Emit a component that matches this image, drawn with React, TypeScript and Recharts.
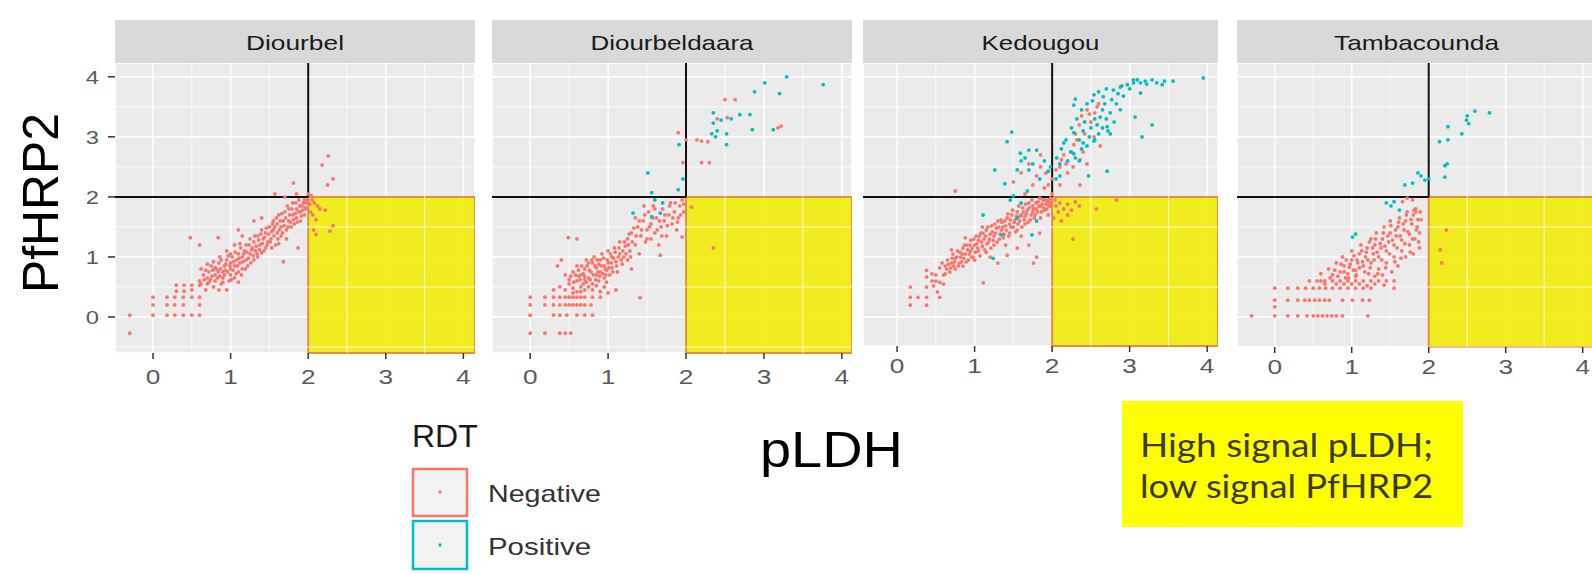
import React from 'react';
import { ScatterChart, Scatter, XAxis, YAxis, CartesianGrid, ReferenceLine, ReferenceArea } from 'recharts';

type Pt = [number, number];

const xTicks = [0, 1, 2, 3, 4];
const yTicks = [0, 1, 2, 3, 4];
const minorTicks = [-0.5, 0.5, 1.5, 2.5, 3.5];
const cutoff = 2;

// Diourbel
const diourbelNeg: Pt[] = [
  [-0.3, 0.03], [-0.3, -0.27],
  [0, 0.33], [0.18, 0.33], [0.28, 0.33], [0.39, 0.33], [0.5, 0.33], [0.6, 0.33],
  [0, 0.2], [0.18, 0.2], [0.28, 0.2], [0.39, 0.2], [0.6, 0.2],
  [0, 0.03], [0.18, 0.03], [0.28, 0.03], [0.39, 0.03], [0.5, 0.03], [0.6, 0.03],
  [0.3, 0.53], [0.4, 0.53], [0.5, 0.53], [0.6, 0.53], [0.3, 0.43], [0.4, 0.43], [0.5, 0.45],
  [0.6, 0.6], [0.65, 0.7], [0.62, 0.8], [0.7, 0.55], [0.7, 0.65], [0.72, 0.75], [0.75, 0.85], [0.78, 0.5],
  [0.8, 0.6], [0.8, 0.7], [0.82, 0.8], [0.85, 0.9], [0.85, 0.45], [0.88, 0.55], [0.9, 0.65], [0.9, 0.75],
  [0.92, 0.85], [0.95, 0.95], [0.95, 0.45], [0.98, 0.6], [1.0, 0.7], [1.0, 0.8], [1.0, 0.9], [1.02, 1.0],
  [0.68, 0.45], [0.74, 0.62], [0.86, 0.68], [0.93, 0.78], [0.78, 0.92], [0.7, 0.88],
  [1.05, 0.65], [1.05, 0.85], [1.08, 0.95], [1.1, 0.75], [1.1, 1.05], [1.12, 0.9], [1.15, 1.0], [1.15, 0.8],
  [1.18, 1.1], [1.2, 0.95], [1.2, 1.2], [1.22, 0.85], [1.25, 1.05], [1.25, 1.3], [1.28, 1.15], [1.3, 0.95],
  [1.3, 1.25], [1.32, 1.1], [1.35, 1.35], [1.35, 1.0], [1.38, 1.2], [1.4, 1.45], [1.4, 1.07], [1.42, 1.3],
  [1.45, 1.15], [1.45, 1.4], [1.48, 1.25], [1.5, 1.5], [1.1, 0.58], [0.95, 1.1], [1.05, 1.2], [1.15, 1.35],
  [1.52, 1.3], [1.55, 1.45], [1.55, 1.6], [1.58, 1.2], [1.6, 1.4], [1.6, 1.55], [1.62, 1.7], [1.65, 1.35],
  [1.65, 1.5], [1.68, 1.6], [1.68, 0.92], [1.7, 1.75], [1.72, 1.45], [1.75, 1.6], [1.75, 1.8], [1.78, 1.5],
  [1.8, 1.7], [1.8, 1.9], [1.82, 1.55], [1.85, 1.65], [1.85, 1.8], [1.87, 1.15], [1.88, 1.95], [1.9, 1.75],
  [1.9, 1.6], [1.92, 1.85], [1.95, 1.7], [1.95, 1.95], [1.97, 1.8], [1.98, 1.9], [1.57, 2.05], [1.81, 2.23],
  [1.7, 2.0], [1.85, 2.05],
  [0.62, 0.55], [0.66, 0.62], [0.68, 0.78], [0.72, 0.58], [0.76, 0.68], [0.77, 0.78], [0.8, 0.82], [0.83, 0.65],
  [0.84, 0.75], [0.87, 0.8], [0.88, 0.95], [0.9, 0.58], [0.92, 0.7], [0.94, 0.88], [0.96, 0.75], [0.97, 1.02],
  [0.99, 0.85], [1.01, 0.62], [1.03, 0.78], [1.04, 0.92], [1.06, 1.08], [1.07, 0.72], [1.09, 0.85], [1.11, 0.98],
  [1.13, 1.15], [1.14, 0.7], [1.16, 0.92], [1.17, 1.05], [1.19, 0.8], [1.21, 1.08], [1.23, 0.98], [1.24, 1.2],
  [1.26, 0.9], [1.27, 1.12], [1.29, 1.02], [1.31, 1.35], [1.33, 1.18], [1.34, 1.05], [1.36, 1.28], [1.37, 1.12],
  [1.39, 1.38], [1.41, 1.22], [1.43, 1.1], [1.44, 1.33], [1.46, 1.48], [1.47, 1.2], [1.49, 1.38], [1.51, 1.25],
  [1.53, 1.42], [1.54, 1.55], [1.56, 1.35], [1.57, 1.5], [1.59, 1.65], [1.61, 1.3], [1.63, 1.45], [1.64, 1.6],
  [1.66, 1.72], [1.67, 1.4], [1.69, 1.52], [1.71, 1.65], [1.73, 1.85], [1.74, 1.5], [1.76, 1.7], [1.77, 1.58],
  [1.79, 1.8], [1.81, 1.62], [1.83, 1.72], [1.84, 1.9], [1.86, 1.58], [1.87, 1.75], [1.89, 1.85], [1.91, 1.68],
  [1.93, 1.78], [1.94, 1.9], [1.96, 1.82], [1.99, 1.95], [1.53, 1.15], [1.62, 1.22], [1.72, 1.3], [1.12, 1.22],
  [1.0, 1.05], [0.86, 1.0],
  [0.48, 1.32], [0.6, 1.2], [0.84, 1.32], [1.1, 1.45], [1.3, 1.6], [1.4, 1.65],
  [2.18, 2.53], [2.26, 2.68], [2.32, 2.3], [2.25, 2.2], [2.22, 1.78], [2.15, 1.8], [2.1, 1.62], [2.07, 1.45],
  [2.1, 1.37], [2.32, 1.52], [2.28, 1.43], [2.02, 1.88], [2.05, 1.95], [2.03, 1.75], [2.08, 1.9], [2.0, 2.05],
  [2.04, 2.02], [2.12, 1.85], [2.06, 1.7],
];
const diourbelPos: Pt[] = [];

// Diourbeldaara
const daaraNeg: Pt[] = [
  [0, 0.33], [0.19, 0.33], [0.3, 0.33], [0.38, 0.33], [0.45, 0.33], [0.5, 0.33], [0.55, 0.33], [0.6, 0.33],
  [0.65, 0.33], [0.7, 0.33], [0.8, 0.33], [0.9, 0.33],
  [0, 0.2], [0.19, 0.2], [0.3, 0.2], [0.38, 0.2], [0.45, 0.2], [0.5, 0.2], [0.55, 0.2], [0.6, 0.2],
  [0.65, 0.2], [0.7, 0.2], [0.78, 0.2],
  [0, 0.03], [0.3, 0.03], [0.38, 0.03], [0.47, 0.03], [0.6, 0.03], [0.7, 0.03], [0.8, 0.03],
  [0, -0.27], [0.19, -0.27], [0.38, -0.27], [0.45, -0.27], [0.52, -0.27],
  [0.3, 0.45], [0.38, 0.5], [0.45, 0.45], [0.5, 0.55], [0.55, 0.48], [0.6, 0.42], [0.7, 0.45], [0.8, 0.45],
  [0.9, 0.42], [1.0, 0.4], [1.1, 0.45], [1.41, 0.32],
  [0.45, 0.7], [0.5, 0.62], [0.55, 0.75], [0.6, 0.6], [0.6, 0.85], [0.65, 0.7], [0.68, 0.55], [0.7, 0.8],
  [0.72, 0.95], [0.75, 0.65], [0.78, 0.75], [0.8, 0.9], [0.8, 0.55], [0.82, 1.0], [0.85, 0.7], [0.85, 0.82],
  [0.88, 0.6], [0.9, 0.95], [0.9, 0.75], [0.92, 1.05], [0.95, 0.85], [0.95, 0.65], [0.98, 0.78], [1.0, 0.9],
  [1.0, 1.1], [1.02, 0.7], [1.05, 1.0], [1.05, 0.82], [1.08, 1.15], [1.1, 0.92], [1.12, 0.75], [1.15, 1.05],
  [1.15, 1.25], [1.18, 0.88], [1.2, 1.0], [1.22, 1.18], [1.25, 1.3], [1.25, 0.95], [1.28, 1.1], [1.3, 1.4],
  [1.3, 0.8], [0.7, 0.62], [0.62, 0.68], [0.88, 0.88], [0.75, 0.9], [0.98, 0.58],
  [0.52, 0.68], [0.56, 0.58], [0.58, 0.7], [0.62, 0.78], [0.64, 0.62], [0.66, 0.85], [0.68, 0.72], [0.7, 0.68],
  [0.72, 0.58], [0.73, 0.85], [0.76, 0.78], [0.77, 0.62], [0.79, 0.95], [0.81, 0.7], [0.83, 0.85], [0.84, 0.62],
  [0.86, 0.95], [0.87, 0.75], [0.89, 0.68], [0.91, 0.85], [0.93, 0.72], [0.94, 0.98], [0.96, 0.8], [0.97, 0.7],
  [0.99, 0.95], [1.01, 0.82], [1.03, 1.05], [1.04, 0.9], [1.06, 0.75], [1.07, 0.98], [1.09, 1.08], [1.11, 0.85],
  [1.13, 1.0], [1.14, 1.15], [1.17, 0.95], [1.19, 1.1], [1.21, 1.25], [1.23, 1.05], [1.26, 1.2], [1.27, 1.38],
  [1.29, 1.0], [1.31, 1.25], [1.33, 1.48], [1.36, 1.35], [1.4, 1.6], [1.43, 1.45], [1.47, 1.7], [1.5, 1.3],
  [1.53, 1.5], [1.57, 1.65], [1.6, 1.8], [1.63, 1.45], [1.66, 1.6], [1.69, 1.35], [1.73, 1.7], [1.76, 1.52],
  [1.79, 1.85], [1.83, 1.65], [1.86, 1.9], [1.89, 1.58], [1.93, 1.7], [1.97, 1.88], [0.65, 0.5], [0.75, 0.5],
  [0.85, 0.52], [0.95, 0.5], [0.55, 0.4], [0.65, 0.42],
  [0.49, 1.32], [0.6, 1.3], [0.35, 0.85], [0.4, 0.95],
  [1.35, 1.2], [1.38, 1.5], [1.4, 1.05], [1.42, 1.35], [1.45, 1.6], [1.48, 1.25], [1.5, 1.45], [1.52, 1.75],
  [1.55, 1.3], [1.55, 1.55], [1.58, 1.85], [1.6, 1.4], [1.62, 1.65], [1.65, 1.2], [1.67, 1.03], [1.68, 1.5],
  [1.7, 1.8], [1.72, 1.6], [1.75, 1.35], [1.78, 1.7], [1.8, 1.9], [1.82, 1.55], [1.85, 1.75], [1.88, 1.45],
  [1.9, 1.65], [1.92, 1.85], [1.95, 1.33], [1.95, 1.95], [1.97, 1.75], [1.46, 1.85], [1.35, 1.65],
  [1.9, 3.07], [1.96, 2.57], [2.0, 2.95], [2.14, 2.95], [2.2, 2.93], [2.28, 2.92], [2.2, 2.57], [2.3, 2.57],
  [2.53, 3.32], [2.5, 3.62], [2.63, 3.62], [3.18, 3.15], [3.22, 3.18], [2.4, 3.3],
  [2.35, 1.15], [2.07, 1.83],
];
const daaraPos: Pt[] = [
  [1.51, 2.4], [1.56, 2.07], [1.32, 1.73], [1.56, 1.67], [1.67, 1.73], [1.9, 2.12], [1.91, 2.87], [1.96, 2.3],
  [2.35, 3.4], [2.35, 3.23], [2.33, 3.05], [2.38, 3.0], [2.4, 3.1], [2.52, 3.05], [2.52, 2.87], [2.69, 3.37],
  [2.82, 3.37], [2.85, 3.12], [2.88, 3.75], [3.01, 3.9], [3.29, 4.0], [3.2, 3.72], [3.76, 3.87], [2.58, 3.3],
  [2.45, 3.28], [3.12, 3.12], [1.7, 1.9], [1.6, 1.95],
];

// Kedougou
const kedougouNeg: Pt[] = [
  [0.17, 0.5], [0.17, 0.33], [0.17, 0.2], [0.27, 0.33], [0.38, 0.33], [0.38, 0.2], [0.38, 0.5], [0.38, 0.67],
  [0.38, 0.78], [0.47, 0.52], [0.52, 0.42], [0.55, 0.33], [0.45, 0.6], [0.5, 0.7], [0.55, 0.58], [0.6, 0.55],
  [0.6, 0.7], [0.62, 0.85], [0.65, 0.95], [0.68, 0.75], [0.7, 0.9], [0.72, 1.05], [0.75, 0.8], [0.75, 0.98],
  [0.78, 1.1], [0.8, 0.9], [0.82, 1.0], [0.85, 1.15], [0.85, 0.85], [0.88, 1.05], [0.9, 1.2], [0.92, 0.95],
  [0.95, 1.1], [0.95, 1.28], [0.98, 1.0], [1.0, 1.2], [1.02, 1.35], [1.05, 1.1], [1.05, 1.28], [1.08, 1.4],
  [1.1, 1.18], [1.12, 1.3], [1.15, 1.45], [1.15, 1.08], [1.18, 1.25], [1.2, 1.38], [1.22, 1.52], [1.25, 1.2],
  [1.25, 1.35], [1.28, 1.48], [1.3, 1.6], [1.32, 1.3], [1.35, 1.45], [1.35, 1.58], [1.38, 1.38], [1.4, 1.52],
  [1.42, 1.65], [1.45, 1.4], [1.45, 1.55], [1.48, 1.7], [1.5, 1.5], [1.52, 1.62], [1.55, 1.75], [1.55, 1.45],
  [1.58, 1.6], [1.6, 1.7], [1.62, 1.82], [1.65, 1.55], [1.65, 1.68], [1.68, 1.78], [1.7, 1.9], [1.72, 1.62],
  [1.75, 1.75], [1.75, 1.85], [1.78, 1.7], [1.8, 1.8], [1.82, 1.92], [1.85, 1.65], [1.85, 1.85], [1.88, 1.95],
  [1.9, 1.78], [1.92, 1.88], [1.95, 1.95], [1.95, 1.7], [1.98, 1.85], [1.98, 1.98], [0.7, 1.12], [0.88, 1.32],
  [1.0, 0.95], [1.2, 1.0], [1.4, 1.2], [1.6, 1.35], [1.1, 1.5],
  [0.62, 0.72], [0.64, 0.8], [0.66, 0.88], [0.69, 0.82], [0.71, 0.98], [0.73, 0.85], [0.74, 0.92], [0.77, 1.0],
  [0.79, 0.85], [0.81, 1.08], [0.83, 0.92], [0.84, 1.05], [0.86, 0.98], [0.87, 1.2], [0.89, 0.92], [0.91, 1.12],
  [0.93, 1.05], [0.94, 1.2], [0.96, 1.0], [0.97, 1.15], [0.99, 1.3], [1.01, 1.08], [1.03, 1.22], [1.04, 1.15],
  [1.06, 1.35], [1.07, 1.02], [1.09, 1.25], [1.11, 1.4], [1.13, 1.12], [1.14, 1.35], [1.16, 1.22], [1.17, 1.5],
  [1.19, 1.3], [1.21, 1.15], [1.23, 1.42], [1.24, 1.28], [1.26, 1.55], [1.27, 1.4], [1.29, 1.25], [1.31, 1.5],
  [1.33, 1.38], [1.34, 1.62], [1.36, 1.5], [1.37, 1.32], [1.39, 1.6], [1.41, 1.45], [1.43, 1.72], [1.44, 1.35],
  [1.46, 1.62], [1.47, 1.5], [1.49, 1.78], [1.51, 1.58], [1.53, 1.42], [1.54, 1.68], [1.56, 1.55], [1.57, 1.85],
  [1.59, 1.68], [1.61, 1.5], [1.63, 1.75], [1.64, 1.62], [1.66, 1.88], [1.67, 1.72], [1.69, 1.58], [1.71, 1.82],
  [1.73, 1.7], [1.74, 1.95], [1.76, 1.8], [1.77, 1.65], [1.79, 1.9], [1.81, 1.75], [1.83, 1.85], [1.84, 1.98],
  [1.86, 1.75], [1.87, 1.88], [1.89, 1.82], [1.91, 1.95], [1.93, 1.8], [1.94, 1.9], [1.96, 1.85], [1.97, 1.92],
  [1.99, 1.9], [0.55, 0.82], [0.5, 0.6], [0.45, 0.72], [0.58, 0.9],
  [1.11, 0.57], [1.42, 1.03], [1.8, 1.0], [1.76, 0.9], [1.84, 1.4], [1.7, 1.2], [0.75, 2.1], [1.55, 1.15], [1.3, 0.9],
  [1.85, 2.7], [2.36, 2.62], [2.28, 2.87], [2.54, 3.0], [2.45, 3.45], [2.2, 2.4], [2.36, 2.2], [2.0, 2.3],
  [1.85, 2.5], [1.75, 2.2], [1.7, 2.55], [1.6, 2.4], [1.9, 2.15], [2.1, 2.5], [2.15, 2.7], [2.4, 2.75],
  [2.5, 3.25], [2.55, 3.4], [2.6, 3.55], [2.35, 3.2], [2.3, 3.05], [2.62, 2.85], [1.5, 2.25], [1.65, 2.05],
  [2.0, 2.05], [2.1, 2.2], [1.95, 2.2], [2.05, 2.45], [2.12, 2.62], [2.18, 2.55], [2.25, 2.75], [2.32, 2.95],
  [2.42, 3.05], [2.48, 3.38], [2.58, 3.5], [2.38, 3.35], [2.27, 2.5], [2.45, 2.55], [1.92, 2.4], [1.8, 2.35],
  [2.05, 1.85], [2.1, 1.9], [2.15, 1.8], [2.2, 1.88], [2.25, 1.78], [2.3, 1.92], [2.35, 1.85], [2.08, 1.75],
  [2.27, 1.3], [2.57, 1.8], [2.83, 1.95], [2.02, 1.65], [2.12, 1.6], [2.04, 1.95], [2.2, 1.7],
];
const kedougouPos: Pt[] = [
  [2.79, 3.78], [2.88, 3.83], [2.97, 3.87], [3.05, 3.9], [3.14, 3.9], [3.29, 3.95], [3.42, 3.87], [3.56, 3.93],
  [3.95, 3.98], [3.14, 3.73], [2.92, 3.68], [2.66, 3.67], [2.54, 3.7], [3.0, 3.8], [3.22, 3.88], [3.35, 3.9],
  [2.85, 3.72], [3.1, 3.95], [2.9, 3.85], [3.05, 3.95], [3.2, 3.93], [3.45, 3.93],
  [2.28, 3.07], [2.62, 3.33], [2.71, 3.17], [2.54, 2.93], [2.24, 2.75], [2.06, 2.65], [2.15, 2.9], [2.35, 2.95],
  [2.4, 3.1], [2.45, 2.85], [2.5, 3.15], [2.55, 3.3], [2.6, 3.05], [2.65, 3.45], [2.7, 3.3], [2.75, 3.4],
  [2.8, 3.25], [2.58, 3.2], [2.48, 3.0], [2.38, 2.8], [2.3, 2.65], [2.2, 2.6], [2.12, 2.8], [2.42, 3.25],
  [2.68, 3.55], [2.72, 3.1], [2.1, 2.55], [2.05, 2.3], [2.18, 2.95], [2.25, 3.15], [2.32, 3.3], [2.38, 3.45],
  [2.45, 3.55], [2.52, 3.6], [2.6, 3.75], [2.7, 3.8], [2.77, 3.62], [2.83, 3.55], [2.88, 3.45], [2.65, 3.15],
  [2.55, 2.95], [2.4, 2.9], [2.28, 2.72], [2.35, 2.6], [2.75, 3.05],
  [3.07, 3.33], [3.29, 3.2], [3.16, 3.0], [2.71, 2.43], [2.47, 2.35], [2.28, 3.53], [2.3, 3.63],
  [1.48, 3.08], [1.42, 2.92], [1.59, 2.73], [1.7, 2.78], [1.8, 2.78], [1.65, 2.65], [1.26, 2.45], [1.39, 2.22],
  [1.55, 2.45], [1.75, 2.55], [1.68, 2.1], [1.84, 2.3], [1.95, 2.43], [1.9, 2.6], [1.98, 2.5], [2.1, 2.35],
  [1.7, 2.45], [1.6, 2.6],
  [1.46, 1.95], [1.5, 2.02], [1.35, 1.37], [1.24, 0.98], [1.74, 1.37], [1.6, 1.9], [1.55, 1.65], [1.8, 1.6], [1.11, 1.7],
];

// Tambacounda
const tambaNeg: Pt[] = [
  [-0.3, 0.02], [0, 0.02], [0.17, 0.02], [0.3, 0.02], [0.42, 0.02], [0.5, 0.02], [0.56, 0.02], [0.62, 0.02],
  [0.68, 0.02], [0.74, 0.02], [0.8, 0.02], [0.88, 0.02], [1.21, 0.02],
  [0, 0.17],
  [0, 0.28], [0.17, 0.28], [0.3, 0.28], [0.39, 0.28], [0.45, 0.28], [0.52, 0.28], [0.58, 0.28], [0.65, 0.28],
  [0.71, 0.28], [0.88, 0.28], [1.01, 0.28], [1.14, 0.28], [1.23, 0.28],
  [0, 0.48], [0.17, 0.48], [0.3, 0.48], [0.4, 0.48], [0.5, 0.48], [0.58, 0.48], [0.66, 0.48], [0.75, 0.48],
  [0.85, 0.48], [0.95, 0.48], [1.05, 0.48], [1.15, 0.48], [1.25, 0.48], [1.42, 0.53], [1.55, 0.48],
  [0.45, 0.6], [0.55, 0.6], [0.65, 0.6], [0.75, 0.6], [0.85, 0.6], [0.95, 0.6], [1.05, 0.6], [1.15, 0.6],
  [1.25, 0.6], [1.35, 0.6], [1.45, 0.6], [1.55, 0.6],
  [0.6, 0.72], [0.7, 0.8], [0.75, 0.7], [0.8, 0.9], [0.85, 0.75], [0.88, 1.0], [0.9, 0.85], [0.95, 0.72],
  [0.97, 0.83], [1.0, 0.95], [1.0, 1.1], [1.05, 0.78], [1.08, 0.9], [1.1, 1.05], [1.12, 1.2], [1.15, 0.85],
  [1.18, 1.0], [1.2, 1.15], [1.22, 0.72], [1.25, 1.3], [1.25, 0.9], [1.28, 1.05], [1.3, 1.2], [1.32, 1.4],
  [1.35, 0.8], [1.35, 1.0], [1.38, 1.15], [1.4, 1.3], [1.42, 1.5], [1.45, 0.9], [1.45, 1.1], [1.48, 1.25],
  [1.5, 1.4], [1.5, 1.6], [1.52, 0.75], [1.55, 1.0], [1.55, 1.2], [1.58, 1.35], [1.6, 1.5], [1.6, 0.85],
  [1.62, 1.65], [1.65, 1.1], [1.65, 1.28], [1.68, 1.45], [1.7, 1.0], [1.7, 1.6], [1.72, 1.75], [1.75, 1.2],
  [1.75, 1.38], [1.78, 1.55], [1.8, 1.05], [1.8, 1.7], [1.82, 1.3], [1.83, 1.75], [1.85, 1.5], [1.88, 1.4],
  [1.88, 1.15], [1.9, 1.62], [0.92, 0.65], [1.05, 0.68], [1.4, 0.7], [1.3, 0.68],
  [0.72, 0.65], [0.78, 0.78], [0.82, 0.68], [0.86, 0.88], [0.9, 0.75], [0.93, 0.95], [0.96, 0.65], [0.98, 0.88],
  [1.02, 0.78], [1.03, 1.02], [1.06, 0.7], [1.07, 0.95], [1.1, 0.82], [1.13, 1.1], [1.14, 0.92], [1.17, 0.75],
  [1.19, 1.08], [1.21, 0.95], [1.23, 1.25], [1.24, 0.82], [1.27, 1.15], [1.29, 0.95], [1.31, 1.3], [1.33, 1.08],
  [1.34, 0.72], [1.37, 1.22], [1.39, 0.95], [1.41, 1.4], [1.43, 1.18], [1.44, 0.82], [1.47, 1.35], [1.49, 1.05],
  [1.51, 1.52], [1.53, 1.28], [1.56, 0.92], [1.57, 1.45], [1.59, 1.15], [1.61, 1.58], [1.63, 1.35], [1.64, 0.98],
  [1.67, 1.55], [1.69, 1.22], [1.71, 1.7], [1.73, 1.42], [1.76, 1.08], [1.77, 1.62], [1.79, 1.3], [1.81, 1.78],
  [1.84, 1.45], [1.86, 1.62], [1.87, 1.25], [1.89, 1.75], [0.6, 0.6], [0.65, 0.55], [1.1, 0.55], [1.2, 0.52],
  [1.3, 0.55], [0.8, 0.55], [0.9, 0.55], [1.0, 0.55],
  [1.66, 1.92], [1.79, 1.95], [1.72, 1.98], [1.83, 1.8],
  [2.23, 1.45], [2.15, 1.12], [2.17, 0.9],
];
const tambaPos: Pt[] = [
  [1.01, 1.33], [1.05, 1.38], [1.45, 1.9], [1.51, 1.85], [1.62, 1.78], [1.69, 2.2], [1.79, 2.23], [1.86, 2.4],
  [1.9, 2.35], [2.0, 2.3], [2.21, 2.33], [2.21, 2.52], [2.24, 2.55], [2.14, 2.92], [2.25, 2.95], [2.25, 3.17],
  [2.43, 3.05], [2.49, 3.28], [2.5, 3.35], [2.52, 3.22], [2.6, 3.43], [2.79, 3.4], [1.55, 1.92], [1.95, 2.28],
];

const NEG = '#F8766D';
const POS = '#00BFC4';
const SANS = '"Liberation Sans", Arial, sans-serif';

const PLOT_TOP = 63;
const X_AXIS_H = 45;

// layout of the four facets (pixels) and their visible ranges
const panels = [
  { name: 'Diourbel', nameW: 98, neg: diourbelNeg, pos: diourbelPos, left: 115, right: 475, bottom: 353, xd: [-0.49, 4.15], yd: [-0.6, 4.23], labelDy: 23 },
  { name: 'Diourbeldaara', nameW: 163, neg: daaraNeg, pos: daaraPos, left: 492, right: 852, bottom: 353, xd: [-0.49, 4.13], yd: [-0.6, 4.23], labelDy: 23 },
  { name: 'Kedougou', nameW: 118, neg: kedougouNeg, pos: kedougouPos, left: 863, right: 1218, bottom: 346, xd: [-0.44, 4.14], yd: [-0.48, 4.23], labelDy: 19 },
  { name: 'Tambacounda', nameW: 165, neg: tambaNeg, pos: tambaPos, left: 1237, right: 1595, bottom: 347, xd: [-0.49, 4.16], yd: [-0.5, 4.23], labelDy: 19 },
];

const toRows = (pts: Pt[]) => pts.map(([x, y]) => ({ x, y }));

const makeDot = (color: string) => (props: any) => (
  <circle cx={props.cx} cy={props.cy} r={1.9} fill={color} />
);
const negDot = makeDot(NEG);
const posDot = makeDot(POS);

const makeXTick = (dy: number) => (props: any) => {
  const { x, y, payload } = props;
  return (
    <g transform={`translate(${x},${y})`}>
      <text transform="scale(1.25,1)" textAnchor="middle" y={dy} fontSize={21} fill="#5a5a5a" fontFamily={SANS}>
        {payload.value}
      </text>
    </g>
  );
};

const YTick = (props: any) => {
  const { x, y, payload } = props;
  return (
    <g transform={`translate(${x},${y})`}>
      <text transform="scale(1.25,1)" textAnchor="end" y={7} fontSize={19} fill="#5a5a5a" fontFamily={SANS}>
        {payload.value}
      </text>
    </g>
  );
};

function Facet({ p, showY }: { p: typeof panels[number]; showY: boolean }) {
  const yW = showY ? 40 : 0;
  const w = p.right - p.left + yW;
  const h = p.bottom - PLOT_TOP + X_AXIS_H;
  const [x0, x1] = p.xd;
  const [y0, y1] = p.yd;
  return (
    <div style={{ position: 'absolute', left: p.left - yW, top: PLOT_TOP, width: w, height: h }}>
      <ScatterChart width={w} height={h} margin={{ top: 0, right: 0, bottom: 0, left: 0 }}>
        <CartesianGrid stroke="#ffffff" strokeWidth={1.6} fill="#EBEBEB" fillOpacity={1} />
        {minorTicks.map((v) => (
          <ReferenceLine key={`mx${v}`} x={v} stroke="#ffffff" strokeWidth={0.8} />
        ))}
        {minorTicks.map((v) => (
          <ReferenceLine key={`my${v}`} y={v} stroke="#ffffff" strokeWidth={0.8} />
        ))}
        <XAxis
          type="number"
          dataKey="x"
          domain={[x0, x1]}
          allowDataOverflow
          ticks={xTicks}
          height={X_AXIS_H}
          axisLine={false}
          tickSize={6}
          tickMargin={2}
          tickLine={{ stroke: '#333333', strokeWidth: 1.5 }}
          tick={makeXTick(p.labelDy)}
          interval={0}
        />
        <YAxis
          type="number"
          dataKey="y"
          domain={[y0, y1]}
          allowDataOverflow
          ticks={yTicks}
          hide={!showY}
          width={yW}
          axisLine={false}
          tickSize={7}
          tickMargin={9}
          tickLine={{ stroke: '#333333', strokeWidth: 1.5 }}
          tick={YTick}
          interval={0}
        />
        <ReferenceArea
          x1={cutoff}
          x2={x1}
          y1={y0}
          y2={cutoff}
          fill="#F0EC12"
          fillOpacity={0.94}
          stroke="#E3903A"
          strokeWidth={2}
        />
        <Scatter data={toRows(p.neg)} fill={NEG} shape={negDot} isAnimationActive={false} />
        <Scatter data={toRows(p.pos)} fill={POS} shape={posDot} isAnimationActive={false} />
        <ReferenceLine segment={[{ x: cutoff, y: cutoff }, { x: cutoff, y: y1 }]} stroke="#111111" strokeWidth={2} />
        <ReferenceLine segment={[{ x: x0, y: cutoff }, { x: cutoff, y: cutoff }]} stroke="#111111" strokeWidth={2} />
      </ScatterChart>
    </div>
  );
}

export default function App() {
  return (
    <div style={{ position: 'absolute', left: 0, top: 0, width: 1592, height: 574, overflow: 'hidden', background: '#ffffff' }}>
      <svg width={1592} height={574} style={{ position: 'absolute', left: 0, top: 0 }}>
        {panels.map((p) => (
          <g key={p.name}>
            <rect x={p.left} y={20} width={p.right - p.left} height={43} fill="#D9D9D9" />
            <text
              x={(p.left + Math.min(p.right, 1592)) / 2 + (p.right > 1592 ? 2 : 0)}
              y={50}
              textAnchor="middle"
              fontSize={21}
              fill="#1a1a1a"
              fontFamily={SANS}
              textLength={p.nameW}
              lengthAdjust="spacingAndGlyphs"
            >
              {p.name}
            </text>
          </g>
        ))}
        <text transform="translate(58,203) rotate(-90)" textAnchor="middle" fontSize={50} fill="#000" fontFamily={SANS} textLength={180} lengthAdjust="spacingAndGlyphs">
          PfHRP2
        </text>
        <text x={760} y={467} fontSize={50} fill="#000" fontFamily={SANS} textLength={143} lengthAdjust="spacingAndGlyphs">
          pLDH
        </text>

        <text x={412} y={447} fontSize={32} fill="#1a1a1a" fontFamily={SANS}>RDT</text>
        <rect x={413} y={469} width={54} height={47} fill="#F2F2F2" stroke={NEG} strokeWidth={2.5} />
        <circle cx={440} cy={492} r={1.7} fill={NEG} />
        <text x={488} y={502} fontSize={24} fill="#333" fontFamily={SANS} textLength={113} lengthAdjust="spacingAndGlyphs">Negative</text>
        <rect x={413} y={521} width={54} height={48} fill="#F2F2F2" stroke={POS} strokeWidth={2.5} />
        <circle cx={440} cy={545} r={1.7} fill={POS} />
        <text x={488} y={555} fontSize={24} fill="#333" fontFamily={SANS} textLength={103} lengthAdjust="spacingAndGlyphs">Positive</text>

        <rect x={1122} y={401} width={341} height={126} fill="#FFFF00" />
        <text x={1140} y={457} fontSize={33} fill="#3a3a14" fontFamily="Lato, sans-serif" textLength={293} lengthAdjust="spacingAndGlyphs">
          High signal pLDH;
        </text>
        <text x={1140} y={498} fontSize={33} fill="#3a3a14" fontFamily="Lato, sans-serif" textLength={293} lengthAdjust="spacingAndGlyphs">
          low signal PfHRP2
        </text>
      </svg>
      {panels.map((p, i) => (
        <Facet key={p.name} p={p} showY={i === 0} />
      ))}
    </div>
  );
}
